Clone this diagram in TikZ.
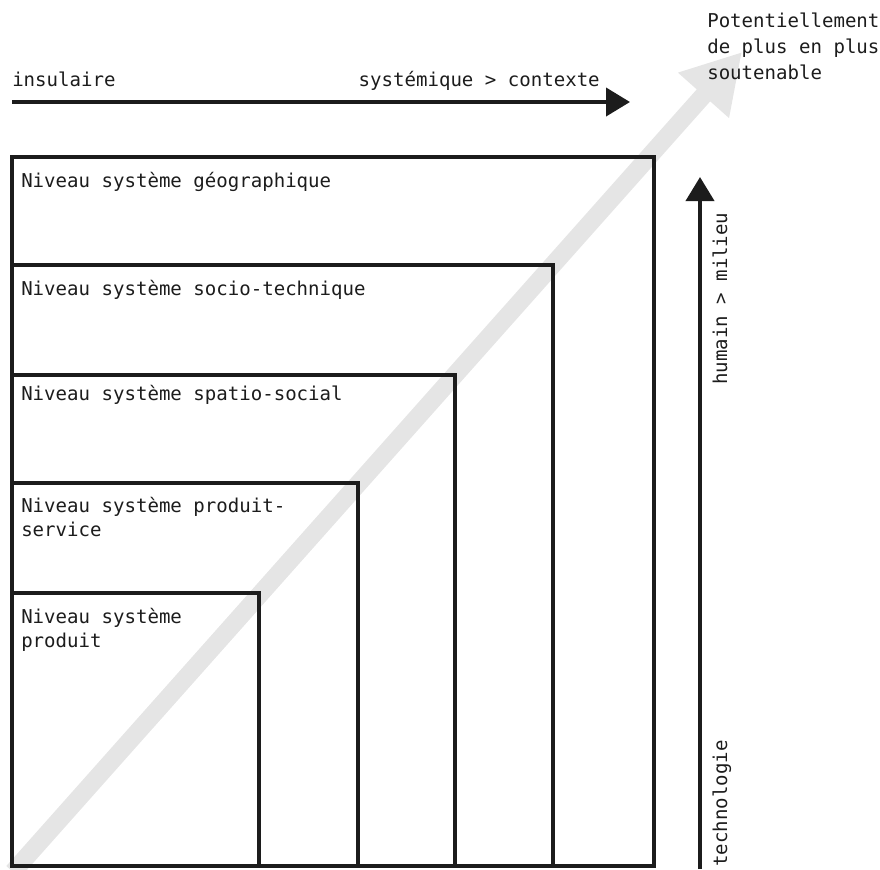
\documentclass[tikz,border=0pt]{standalone}
\usepackage{fontspec}
\setmonofont{DejaVu Sans Mono}
\usetikzlibrary{arrows.meta}
\definecolor{ink}{HTML}{1C1C1C}
\definecolor{haze}{HTML}{E5E5E5}
\tikzset{
  lbl/.style={font=\ttfamily\fontsize{14.3}{18}\selectfont, text=ink, inner sep=0pt, align=left},
  niveau/.style={draw=ink, line width=3pt},
  axe/.style={draw=ink, line width=3pt, -{Triangle[length=18pt,width=21pt]}},
}
\begin{document}
\begin{tikzpicture}[x=0.75pt,y=-0.75pt]
  \useasboundingbox (0,0) rectangle (880,869);
  % Diagonal arrow (behind everything)
  \begin{scope}
    \clip (0,0) rectangle (880,869);
    \coordinate (diagA) at (13,872);
    \coordinate (diagB) at (742,52);
    \draw[haze, line width=13.5pt, -{Triangle[length=43.5pt,width=48pt]}] (diagA) -- (diagB);
  \end{scope}
  % Nested levels
  \draw[niveau] (12,157) rectangle (654,866);
  \draw[niveau] (12,265) rectangle (553,866);
  \draw[niveau] (12,375) rectangle (455,866);
  \draw[niveau] (12,483) rectangle (358,866);
  \draw[niveau] (12,593) rectangle (259,866);
  \node[lbl, anchor=base west] (geo) at (21,187) {Niveau système géographique};
  \node[lbl, anchor=base west] (soctech) at (21,295) {Niveau système socio-technique};
  \node[lbl, anchor=base west] (spatsoc) at (21,400) {Niveau système spatio-social};
  \node[lbl, anchor=base west] (prodserv) at (21,536) {Niveau système produit-\\service};
  \node[lbl, anchor=base west] (prod) at (21,647) {Niveau système\\produit};
  % Horizontal axis
  \coordinate (horA) at (12,102);
  \coordinate (horB) at (630,102);
  \draw[axe] (horA) -- (horB);
  \node[lbl, anchor=base west] (insul) at (12,86) {insulaire};
  \node[lbl, anchor=base east] (syst) at (600,86) {systémique > contexte};
  % Vertical axis
  \coordinate (verA) at (700,869);
  \coordinate (verB) at (700,177);
  \draw[axe] (verA) -- (verB);
  \node[lbl, anchor=base west, rotate=90] (hum) at (727,385) {humain > milieu};
  \node[lbl, anchor=base west, rotate=90] (tech) at (727,867) {technologie};
  % Goal
  \node[lbl, anchor=base west, font=\ttfamily\fontsize{14.3}{19.5}\selectfont] (pot) at (707,79) {Potentiellement\\de plus en plus\\soutenable};
\end{tikzpicture}
\end{document}
